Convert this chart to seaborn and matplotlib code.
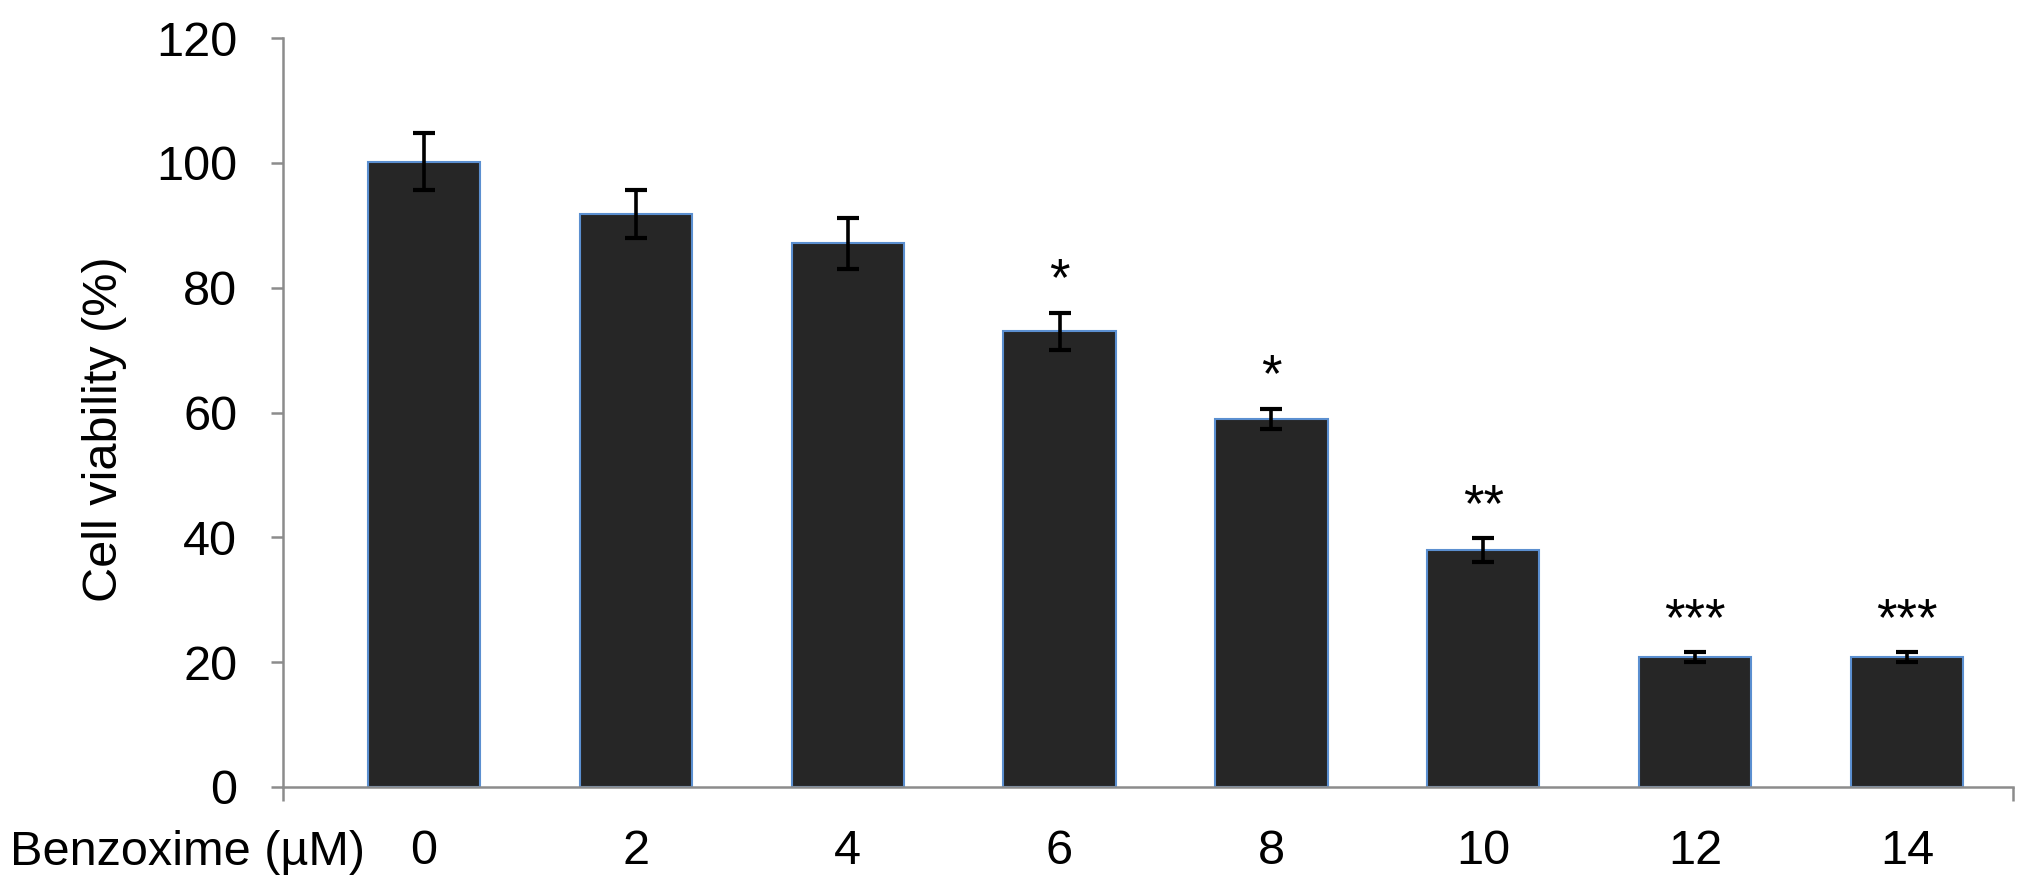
import matplotlib
matplotlib.use("Agg")
import matplotlib.pyplot as plt
import seaborn as sns
import pandas as pd

# data
doses = ["0", "2", "4", "6", "8", "10", "12", "14"]
viability = [100.2, 91.8, 87.1, 73.0, 59.0, 38.0, 20.8, 20.8]
viability_err = [4.5, 3.8, 4.1, 3.0, 1.6, 1.9, 0.75, 0.75]
stars = ["", "", "", "*", "*", "**", "***", "***"]

sns.set_style("white")
plt.rcParams["font.family"] = ["Liberation Sans", "DejaVu Sans"]
plt.rcParams["text.color"] = "black"
plt.rcParams["axes.labelcolor"] = "black"
plt.rcParams["xtick.color"] = "black"
plt.rcParams["ytick.color"] = "black"

df = pd.DataFrame({"dose": doses, "viability": viability})

fig = plt.figure(figsize=(20.31, 8.91), dpi=100)
ax = fig.add_axes([283 / 2031, 1 - 787 / 891, 1730 / 2031, 749 / 891])

sns.barplot(data=df, x="dose", y="viability", ax=ax, color="#262626",
            saturation=1, width=0.53, errorbar=None,
            edgecolor="#5b8fd0", linewidth=1.5)

# error bars
ax.errorbar(range(len(doses)), viability, yerr=viability_err, fmt="none",
            ecolor="black", elinewidth=2.6, capsize=8, capthick=3, zorder=5)

# significance marks
for i, (v, e, s) in enumerate(zip(viability, viability_err, stars)):
    if s:
        ax.text(i, v + e + 5, s, ha="center", va="center", fontsize=38,
                color="black")

ax.set_ylim(0, 120)
ax.set_yticks(range(0, 121, 20))
ax.set_xlim(-0.665, 7.5)

sns.despine(ax=ax, top=True, right=True)
for side in ["left", "bottom"]:
    ax.spines[side].set_color("#8c8c8c")
    ax.spines[side].set_linewidth(1.8)

ax.tick_params(axis="y", which="major", direction="out", length=9, width=1.8,
               color="#8c8c8c", labelcolor="black", labelsize=35, pad=24,
               left=True)
ax.tick_params(axis="x", which="major", length=0, labelcolor="black",
               labelsize=35, pad=30)
# end ticks on the category axis
ax.set_xticks([-0.665, 7.5], minor=True)
ax.tick_params(axis="x", which="minor", direction="out", length=10, width=1.8,
               color="#8c8c8c", bottom=True)

ax.set_xlabel("")
ax.set_ylabel("Cell viability (%)", fontsize=35, va="center", color="black")
ax.yaxis.set_label_coords(-0.103, 0.478)

fig.text(10 / 2031, 1 - 865 / 891, "Benzoxime (µM)", fontsize=35,
         ha="left", va="baseline", color="black")

fig.savefig("out.png", dpi=100, facecolor="white")
